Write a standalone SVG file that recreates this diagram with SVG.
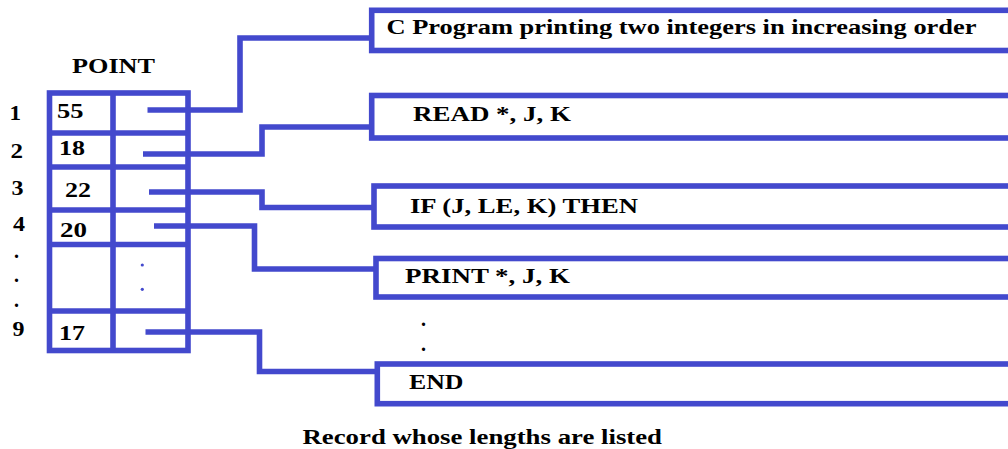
<svg xmlns="http://www.w3.org/2000/svg" width="1008" height="449" viewBox="0 0 1008 449">
<style>
.ln{fill:none;stroke:#4349cd;stroke-width:5.6;stroke-linejoin:miter;stroke-linecap:butt}
.bx{fill:#fff;stroke:#4349cd;stroke-width:5.6}
.t{font-family:"Liberation Serif","Times New Roman",serif;font-weight:bold;font-size:20px;fill:#000}
.bd{fill:#4349cd}
</style>
<rect width="1008" height="449" fill="#fff"/>
<g id="table">
<text class="t" x="72" y="73" textLength="83" lengthAdjust="spacingAndGlyphs">POINT</text>
<rect class="bx" x="49.5" y="93" width="138.5" height="257.5"/>
<line class="ln" x1="113" y1="93" x2="113" y2="350.5"/>
<line class="ln" x1="49.5" y1="133" x2="188" y2="133"/>
<line class="ln" x1="49.5" y1="167" x2="188" y2="167"/>
<line class="ln" x1="49.5" y1="210" x2="188" y2="210"/>
<line class="ln" x1="49.5" y1="244.5" x2="188" y2="244.5"/>
<line class="ln" x1="49.5" y1="311" x2="188" y2="311"/>
<circle class="bd" cx="142.3" cy="265" r="1.6"/>
<circle class="bd" cx="142.3" cy="289.3" r="1.6"/>
</g>
<g id="row-labels">
<text class="t" x="9.5" y="120" textLength="11.5" lengthAdjust="spacingAndGlyphs">1</text>
<text class="t" x="10.5" y="158" textLength="12.5" lengthAdjust="spacingAndGlyphs">2</text>
<text class="t" x="11.5" y="195" textLength="12" lengthAdjust="spacingAndGlyphs">3</text>
<text class="t" x="13" y="231" textLength="12" lengthAdjust="spacingAndGlyphs">4</text>
<text class="t" x="14" y="257.5">.</text>
<text class="t" x="14" y="282">.</text>
<text class="t" x="14" y="307">.</text>
<text class="t" x="12.5" y="336" textLength="12" lengthAdjust="spacingAndGlyphs">9</text>
</g>
<g id="values">
<text class="t" x="57" y="118.3" textLength="26.5" lengthAdjust="spacingAndGlyphs">55</text>
<text class="t" x="59" y="155" textLength="26" lengthAdjust="spacingAndGlyphs">18</text>
<text class="t" x="65" y="196.7" textLength="26" lengthAdjust="spacingAndGlyphs">22</text>
<text class="t" x="60" y="236.7" textLength="27" lengthAdjust="spacingAndGlyphs">20</text>
<text class="t" x="59" y="340" textLength="26" lengthAdjust="spacingAndGlyphs">17</text>
</g>
<g id="connectors">
<path class="ln" d="M147.5,110 H240 V38 H371.7"/>
<path class="ln" d="M143,154 H262 V127 H371.7"/>
<path class="ln" d="M149,192 H262 V207.5 H374"/>
<path class="ln" d="M154,226 H254.5 V269 H376"/>
<path class="ln" d="M145.5,332 H259.5 V371.5 H377.3"/>
</g>
<g id="box-title">
<rect class="bx" x="371.7" y="10.3" width="700" height="40.2"/>
<text class="t" x="386.5" y="34.3" textLength="590" lengthAdjust="spacingAndGlyphs">C Program printing two integers in increasing order</text>
</g>
<g id="box-read">
<rect class="bx" x="371.7" y="95.5" width="700" height="42.5"/>
<text class="t" x="413" y="121" textLength="158" lengthAdjust="spacingAndGlyphs">READ *, J, K</text>
</g>
<g id="box-if">
<rect class="bx" x="374" y="186" width="700" height="41"/>
<text class="t" x="410" y="213.3" textLength="228" lengthAdjust="spacingAndGlyphs">IF (J, LE, K) THEN</text>
</g>
<g id="box-print">
<rect class="bx" x="376" y="258.5" width="700" height="38.5"/>
<text class="t" x="405" y="283.3" textLength="165" lengthAdjust="spacingAndGlyphs">PRINT *, J, K</text>
</g>
<g id="ellipsis">
<text class="t" x="421" y="325.5">.</text>
<text class="t" x="421" y="350.5">.</text>
</g>
<g id="box-end">
<rect class="bx" x="377.3" y="364" width="700" height="39.7"/>
<text class="t" x="409" y="389" textLength="54.5" lengthAdjust="spacingAndGlyphs">END</text>
</g>
<g id="caption">
<text class="t" x="302.5" y="444" textLength="359.5" lengthAdjust="spacingAndGlyphs">Record whose lengths are listed</text>
</g>
</svg>
